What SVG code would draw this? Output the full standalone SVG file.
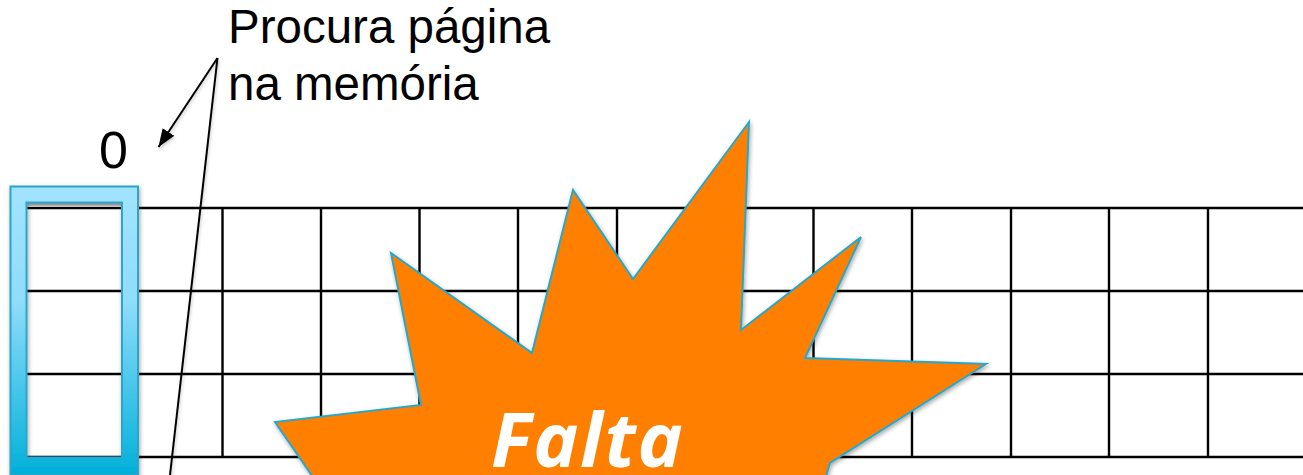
<svg xmlns="http://www.w3.org/2000/svg" width="1303" height="475" viewBox="0 0 1303 475">
<style>
.grid{stroke:#000;stroke-width:2.400;fill:none}
.leader{stroke:#000;stroke-width:2;fill:none}
.label{font-family:"Liberation Sans",Arial,sans-serif;fill:#000}
</style>
<defs>
<linearGradient id="fg" x1="0" y1="0" x2="0" y2="1"><stop offset="0" stop-color="#a2e3ff"/><stop offset="0.4" stop-color="#8fdcfb"/><stop offset="1" stop-color="#00b0da"/></linearGradient>
<linearGradient id="top" x1="0" y1="0" x2="0" y2="1"><stop offset="0" stop-color="#b8b8b8"/><stop offset="1" stop-color="#e8e8e8"/></linearGradient>
<filter id="sh" x="-10%" y="-10%" width="125%" height="125%"><feDropShadow dx="1" dy="2" stdDeviation="2" flood-color="#000" flood-opacity="0.35"/></filter>
<filter id="lsh" x="-20%" y="-5%" width="140%" height="110%"><feDropShadow dx="1" dy="2" stdDeviation="1.500" flood-color="#000" flood-opacity="0.2"/></filter>
<marker id="arr" markerUnits="userSpaceOnUse" markerWidth="20" markerHeight="20" refX="18" refY="8" orient="auto"><path d="M0 1L18 8L0 15Z" fill="#000"/></marker>
</defs>
<g id="page-grid">
<path class="grid" d="M27 208H1303M27 291H1303M27 374H1303M27 457H1303"/>
<path class="grid" d="M222.500 208V457M321 208V457M419.500 208V457M518 208V457M617 208V457M715 208V457M813.500 208V457M912 208V457M1011 208V457M1109 208V457M1208 208V457"/>
</g>
<g id="connectors" filter="url(#lsh)">
<path class="leader" d="M217.500 58L158.500 147" marker-end="url(#arr)"/>
<path class="leader" d="M217.500 58L170 475"/>
</g>
<g id="frame">
<rect x="27" y="203" width="95" height="4" fill="url(#top)"/>
<path d="M10.500 186.500H138V475H10.500ZM26.500 202.500V457.500H122V202.500Z" fill="url(#fg)" fill-rule="evenodd" stroke="#2ba6c8" stroke-width="2" filter="url(#sh)"/>
</g>
<g id="burst">
<path d="M749 122L633 279L573 190L532 353L391 253L421 405L275 422L315 480H825L830 463L986 364L805 358L861 237L741 330Z" fill="#ff8000" stroke="#2ba6c8" stroke-width="2" filter="url(#sh)"/>
<text x="491" y="467" font-family="'Open Sans',sans-serif" font-weight="700" font-style="italic" font-size="76" letter-spacing="1.800" fill="#fff">Falta</text>
</g>
<g id="labels">
<text class="label" x="228" y="43" font-size="47.500">Procura página</text>
<text class="label" x="228" y="100" font-size="47.500">na memória</text>
<text class="label" x="99" y="168" font-size="52">0</text>
</g>
</svg>
